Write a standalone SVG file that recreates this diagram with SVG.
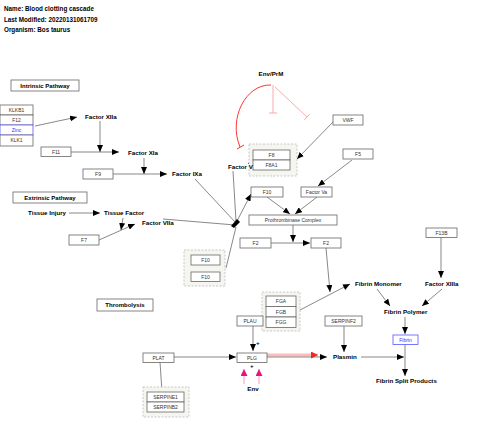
<svg xmlns="http://www.w3.org/2000/svg" width="480" height="432" viewBox="0 0 480 432">
<style>
.hd{font-family:"Liberation Sans",Arial,sans-serif;font-weight:bold;font-size:6.3px;fill:#000}
.lb{font-family:"Liberation Sans",Arial,sans-serif;font-weight:bold;font-size:6.2px;fill:#000}
.bt{font-family:"Liberation Sans",Arial,sans-serif;font-size:5px;fill:#333;text-anchor:middle}
.bx{fill:#fff;stroke:#666;stroke-width:0.8}
.bb{fill:#fff;stroke:#55f;stroke-width:0.8}
.grp{fill:#f6f6f0;stroke:#bbb;stroke-width:0.8;stroke-dasharray:2,1.5}
.e{fill:none;stroke:#555;stroke-width:0.7}
.ea{fill:none;stroke:#555;stroke-width:0.7;marker-end:url(#ar)}
</style>
<defs>
<marker id="ar" markerUnits="userSpaceOnUse" markerWidth="8" markerHeight="6" refX="7" refY="3" orient="auto"><path d="M0,0 L7,3 L0,6 Z" fill="#000"/></marker>
<marker id="arr" markerUnits="userSpaceOnUse" markerWidth="8" markerHeight="7" refX="7" refY="3.5" orient="auto"><path d="M0,0 L7,3.5 L0,7 Z" fill="#f22"/></marker>
<marker id="arm" markerUnits="userSpaceOnUse" markerWidth="8" markerHeight="7" refX="7" refY="3.5" orient="auto"><path d="M0,0 L7,3.5 L0,7 Z" fill="#e8157a"/></marker>
</defs>
<rect width="480" height="432" fill="#fff"/>
<text class="hd" x="4" y="11">Name: Blood clotting cascade</text>
<text class="hd" x="4" y="21.5">Last Modified: 20220131061709</text>
<text class="hd" x="4" y="32">Organism: Bos taurus</text>

<g id="connectors">
<path class="ea" d="M35,126 L77,117"/>
<path class="ea" d="M100,121 L100,152"/>
<path class="ea" d="M71,152 L119,152"/>
<path class="ea" d="M144,158 L144,174"/>
<path class="ea" d="M113,174 L167,174"/>
<path class="ea" d="M69,213 L100,213"/>
<path class="ea" d="M123,218 L121,230"/>
<path class="ea" d="M99,240 L135,224"/>
<path class="e" d="M195,179 L236,223"/>
<path class="e" d="M163,219 L235,225"/>
<path class="e" d="M233,171 L236,221"/>
<path class="e" d="M226,268 L236,227"/>
<path class="ea" d="M237,221 L251,194"/>
<path d="M231,226 L237,219 L240,222 L234,228 Z" fill="#000"/>
<path class="ea" d="M333,122 L297,159"/>
<path class="ea" d="M352,160 L318,186"/>
<path class="ea" d="M267,197 L290,214"/>
<path class="ea" d="M317,197 L295,214"/>
<path class="ea" d="M293,225 L293,242"/>
<path class="ea" d="M271,243 L310,243"/>
<path class="ea" d="M326,248 L330,292"/>
<path class="ea" d="M300,310 L350,284"/>
<path class="ea" d="M274,176 L248,163"/>
<path class="ea" d="M377,289 L390,306"/>
<path class="ea" d="M442,289 L422,306"/>
<path class="ea" d="M441,237 L441,278"/>
<path class="ea" d="M405,317 L405,334"/>
<path class="ea" d="M405,344 L405,376"/>
<path class="ea" d="M361,357 L404,357"/>
<path class="ea" d="M344,326 L344,352"/>
<path class="ea" d="M253,326 L253,351"/>
<path class="ea" d="M174,357 L236,357"/>
<path class="e" d="M160,362 L162,392"/>
<path d="M267,355 L318,355" fill="none" stroke="#fbb" stroke-width="3" marker-end="url(#arr)"/>
<path class="ea" d="M267,357 L327,357"/>
<path d="M244,384 L244,369" fill="none" stroke="#f9b" stroke-width="1" marker-end="url(#arm)"/>
<path d="M259,384 L259,369" fill="none" stroke="#f9b" stroke-width="1" marker-end="url(#arm)"/>
<path d="M271,85 C246,84 228,118 240,147" fill="none" stroke="#f33" stroke-width="1"/>
<path d="M237,149 L244,145" fill="none" stroke="#f33" stroke-width="1"/>
<path d="M273,85 L273,113 M269,113 L277,113" fill="none" stroke="#f9a0a0" stroke-width="0.9"/>
<path d="M275,87 L307,117 M304.3,119.9 L309.7,114.1" fill="none" stroke="#f9a0a0" stroke-width="0.9"/>
<text class="lb" x="256" y="345">+</text>
<text class="lb" x="250" y="368">+</text>
</g>

<g id="labels">
<g id="n-factorXIIa"><text class="lb" x="85" y="119">Factor XIIa</text></g>
<g id="n-factorXIa"><text class="lb" x="128" y="155">Factor XIa</text></g>
<g id="n-factorIXa"><text class="lb" x="172" y="176">Factor IXa</text></g>
<g id="n-tissueInjury"><text class="lb" x="28" y="215">Tissue Injury</text></g>
<g id="n-tissueFactor"><text class="lb" x="104" y="215">Tissue Factor</text></g>
<g id="n-factorVIIa"><text class="lb" x="142" y="225">Factor VIIa</text></g>
<g id="n-envprm"><text class="lb" x="271" y="76" text-anchor="middle">Env/PrM</text></g>
<g id="n-fibrinMonomer"><text class="lb" x="355" y="286">Fibrin Monomer</text></g>
<g id="n-factorXIIIa"><text class="lb" x="425" y="286">Factor XIIIa</text></g>
<g id="n-fibrinPolymer"><text class="lb" x="384" y="314">Fibrin Polymer</text></g>
<g id="n-plasmin"><text class="lb" x="333" y="359">Plasmin</text></g>
<g id="n-env"><text class="lb" x="253" y="391" text-anchor="middle">Env</text></g>
<g id="n-fsp"><text class="lb" x="376" y="383">Fibrin Split Products</text></g>
</g>

<g id="n-intrinsic"><rect class="bx" x="11" y="80" width="68" height="11"/><text class="lb" x="45" y="87.8" text-anchor="middle" style="font-size:6px">Intrinsic Pathway</text></g>
<g id="n-extrinsic"><rect class="bx" x="13" y="192" width="74" height="11"/><text class="lb" x="50" y="199.8" text-anchor="middle" style="font-size:6px">Extrinsic Pathway</text></g>
<g id="n-thrombolysis"><rect class="bx" x="97" y="299" width="56" height="12"/><text class="lb" x="125" y="307.2" text-anchor="middle" style="font-size:6px">Thrombolysis</text></g>

<g id="n-klkb1"><rect class="bx" x="0" y="105" width="33" height="10"/><text class="bt" x="16.5" y="111.8">KLKB1</text></g>
<g id="n-f12"><rect class="bx" x="0" y="115" width="33" height="10"/><text class="bt" x="16.5" y="121.8">F12</text></g>
<g id="n-zinc"><rect class="bb" x="0" y="125" width="33" height="10"/><text class="bt" x="16.5" y="131.8" style="fill:#33f">Zinc</text></g>
<g id="n-klk1"><rect class="bx" x="0" y="135" width="33" height="11"/><text class="bt" x="16.5" y="142.3">KLK1</text></g>
<g id="n-f11"><rect class="bx" x="41" y="147" width="30" height="9.5"/><text class="bt" x="56" y="153.6">F11</text></g>
<g id="n-f9"><rect class="bx" x="83" y="169" width="30" height="10"/><text class="bt" x="98" y="175.8">F9</text></g>
<g id="n-f7"><rect class="bx" x="69" y="235" width="30" height="10"/><text class="bt" x="84" y="241.8">F7</text></g>

<g id="n-f8group"><rect class="grp" x="249" y="144" width="48" height="32"/>
<g id="n-f8"><rect class="bx" x="253" y="150" width="37" height="10"/><text class="bt" x="271.5" y="156.8">F8</text></g>
<g id="n-f8a1"><rect class="bx" x="253" y="160" width="37" height="10"/><text class="bt" x="271.5" y="166.8">F8A1</text></g>
</g>
<g id="n-factorV"><text class="lb" x="228" y="169">Factor V</text></g>
<g id="n-vwf"><rect class="bx" x="333" y="115" width="30" height="10"/><text class="bt" x="348" y="121.8">VWF</text></g>
<g id="n-f5"><rect class="bx" x="343" y="149" width="30" height="10"/><text class="bt" x="358" y="155.8">F5</text></g>
<g id="n-f10"><rect class="bx" x="251" y="187" width="32" height="10"/><text class="bt" x="267" y="193.8">F10</text></g>
<g id="n-factorVa"><rect class="bx" x="301" y="187" width="31" height="10"/><text class="bt" x="316.5" y="193.8">Factor Va</text></g>
<g id="n-prothrombinase"><rect class="bx" x="249" y="215" width="88" height="10"/><text class="bt" x="293" y="221.8">Prothrombinase Complex</text></g>
<g id="n-f2a"><rect class="bx" x="240" y="238" width="31" height="10"/><text class="bt" x="255.5" y="244.8">F2</text></g>
<g id="n-f2b"><rect class="bx" x="311" y="238" width="30" height="10"/><text class="bt" x="326" y="244.8">F2</text></g>
<g id="n-f10group"><rect class="grp" x="184" y="250" width="41" height="36"/>
<g id="n-f10a"><rect class="bx" x="191" y="255" width="29" height="10"/><text class="bt" x="205.5" y="261.8">F10</text></g>
<g id="n-f10b"><rect class="bx" x="191" y="272" width="29" height="9.5"/><text class="bt" x="205.5" y="278.6">F10</text></g>
</g>
<g id="n-f13b"><rect class="bx" x="426" y="228" width="31" height="9.5"/><text class="bt" x="441.5" y="234.6">F13B</text></g>
<g id="n-fggroup"><rect class="grp" x="262" y="292" width="38" height="39"/>
<g id="n-fga"><rect class="bx" x="266" y="296" width="30" height="10.5"/><text class="bt" x="281" y="303">FGA</text></g>
<g id="n-fgb"><rect class="bx" x="266" y="306.5" width="30" height="10.5"/><text class="bt" x="281" y="313.5">FGB</text></g>
<g id="n-fgg"><rect class="bx" x="266" y="317" width="30" height="10.5"/><text class="bt" x="281" y="324">FGG</text></g>
</g>
<g id="n-plau"><rect class="bx" x="237" y="316" width="26" height="10"/><text class="bt" x="250" y="322.8">PLAU</text></g>
<g id="n-serpinf2"><rect class="bx" x="325" y="316" width="37" height="10"/><text class="bt" x="343.5" y="322.8">SERPINF2</text></g>
<g id="n-plat"><rect class="bx" x="143" y="353" width="31" height="9.5"/><text class="bt" x="158.5" y="359.6">PLAT</text></g>
<g id="n-plg"><rect class="bx" x="237" y="353" width="30" height="9.5"/><text class="bt" x="252" y="359.6">PLG</text></g>
<g id="n-fibrin"><rect class="bb" x="393" y="335" width="25" height="9.5"/><text class="bt" x="405.5" y="341.6" style="fill:#33f">Fibrin</text></g>
<g id="n-serpinegroup"><rect class="grp" x="143" y="387" width="46" height="30"/>
<g id="n-serpine1"><rect class="bx" x="147" y="392" width="37" height="10"/><text class="bt" x="165.5" y="398.8">SERPINE1</text></g>
<g id="n-serpinb2"><rect class="bx" x="147" y="402" width="37" height="10"/><text class="bt" x="165.5" y="408.8">SERPINB2</text></g>
</g>
</svg>
